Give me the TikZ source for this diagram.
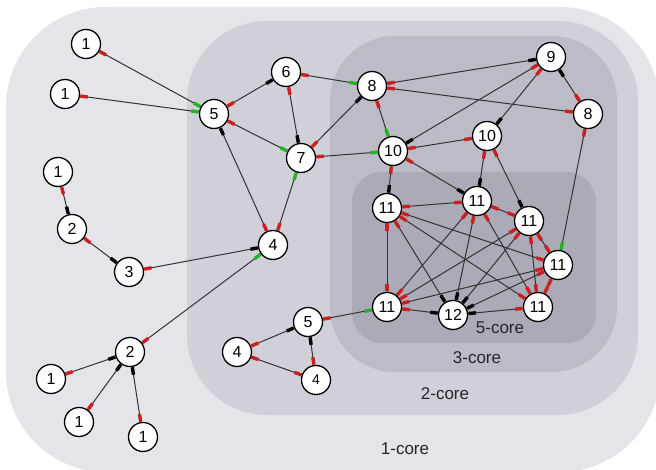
\documentclass[tikz,border=0pt]{standalone}
\usepackage{fontspec}
\setmainfont{Liberation Sans}
\usetikzlibrary{calc}
\definecolor{coreA}{HTML}{E4E4E9}
\definecolor{coreB}{HTML}{CFD0D8}
\definecolor{coreC}{HTML}{BBBCC7}
\definecolor{coreE}{HTML}{ABABB8}
\definecolor{R}{HTML}{CC1F1F}
\definecolor{G}{HTML}{22B422}
\definecolor{K}{HTML}{000000}
\definecolor{edgegray}{HTML}{333333}
\tikzset{
  vtx/.style={circle, draw=black, fill=white, line width=1.3pt, minimum size=29pt, inner sep=0pt, font=\fontsize{16}{16}\selectfont},
  vtxs/.style={vtx, font=\fontsize{14}{14}\selectfont},
  corelabel/.style={font=\fontsize{17}{17}\selectfont, text=black!85, inner sep=0pt},
  edgeline/.style={draw=edgegray, line width=1pt},
  mk/.style={draw=#1, line width=3.4pt},
}
\newcommand\edg[4]{%
  \draw[edgeline] (#1) -- (#2);
  \draw[mk=#3] ($(#1.center)!15.5pt!(#2.center)$) -- ($(#1.center)!23pt!(#2.center)$);
  \draw[mk=#4] ($(#2.center)!15.5pt!(#1.center)$) -- ($(#2.center)!23pt!(#1.center)$);
}
\begin{document}
\begin{tikzpicture}[x=1pt,y=-1pt]
\useasboundingbox (0,0) rectangle (656,470);
\clip (0,0) rectangle (656,470);
% core regions
\fill[coreA, rounded corners=100pt] (6,7) rectangle (660,472);
\fill[coreB, rounded corners=80pt] (187,21) rectangle (638,415);
\fill[coreC, rounded corners=65pt] (330,36) rectangle (617,372);
\fill[coreE, rounded corners=30pt] (352,172) rectangle (596,343);
\node[corelabel] (l1) at (405,449) {1-core};
\node[corelabel] (l2) at (445,394) {2-core};
\node[corelabel] (l3) at (477,358) {3-core};
\node[corelabel] (l5) at (500,328) {5-core};
% vertices
\node[vtx] (n1a) at (86,44) {1};
\node[vtx] (n1b) at (65,94) {1};
\node[vtx] (n1c) at (58,172) {1};
\node[vtx] (n2a) at (72,229) {2};
\node[vtx] (n3) at (129,272) {3};
\node[vtx] (n5a) at (214,114) {5};
\node[vtx] (n6) at (286,72) {6};
\node[vtx] (n7) at (301,158) {7};
\node[vtx] (n8a) at (372,86) {8};
\node[vtx] (n4a) at (273,245) {4};
\node[vtx] (n9) at (551,57) {9};
\node[vtx] (n8b) at (588,114) {8};
\node[vtx] (n10a) at (393,151) {10};
\node[vtx] (n10b) at (487,136) {10};
\node[vtx] (n11a) at (387,208) {11};
\node[vtx] (n11b) at (477,201) {11};
\node[vtx] (n11c) at (529,221) {11};
\node[vtx] (n11d) at (558,265) {11};
\node[vtx] (n11e) at (387,307) {11};
\node[vtx] (n12) at (453,315) {12};
\node[vtx] (n11f) at (538,307) {11};
\node[vtx] (n5b) at (308,322) {5};
\node[vtx] (n4b) at (237,352) {4};
\node[vtxs] (n4c) at (316,380) {4};
\node[vtx] (n2b) at (130,352) {2};
\node[vtx] (n1d) at (51,379) {1};
\node[vtx] (n1e) at (79,422) {1};
\node[vtx] (n1f) at (143,437) {1};
% edges
\edg{n1a}{n5a}{R}{G}
\edg{n1b}{n5a}{R}{G}
\edg{n5a}{n6}{R}{K}
\edg{n5a}{n7}{R}{G}
\edg{n5a}{n4a}{K}{R}
\edg{n6}{n7}{R}{K}
\edg{n6}{n8a}{R}{G}
\edg{n7}{n8a}{R}{K}
\edg{n7}{n4a}{G}{R}
\edg{n7}{n10a}{R}{G}
\edg{n8a}{n10a}{R}{G}
\edg{n8a}{n9}{R}{K}
\edg{n8a}{n8b}{R}{R}
\edg{n9}{n10a}{R}{K}
\edg{n9}{n10b}{R}{K}
\edg{n9}{n8b}{K}{R}
\edg{n10a}{n10b}{R}{R}
\edg{n10a}{n11b}{R}{K}
\edg{n10a}{n11a}{R}{K}
\edg{n10b}{n11b}{R}{K}
\edg{n10b}{n11c}{R}{K}
\edg{n8b}{n11d}{R}{G}
\edg{n1c}{n2a}{R}{K}
\edg{n2a}{n3}{R}{K}
\edg{n3}{n4a}{R}{K}
\edg{n4a}{n2b}{G}{R}
\edg{n2b}{n1d}{K}{R}
\edg{n2b}{n1e}{K}{R}
\edg{n2b}{n1f}{K}{R}
\edg{n5b}{n4b}{K}{R}
\edg{n5b}{n4c}{K}{R}
\edg{n4b}{n4c}{R}{R}
\edg{n5b}{n11e}{R}{G}
% 5-core
\edg{n11a}{n11b}{R}{R}
\edg{n11a}{n11e}{R}{R}
\edg{n11a}{n12}{R}{K}
\edg{n11a}{n11f}{R}{R}
\edg{n11a}{n11d}{R}{R}
\edg{n11b}{n11c}{R}{R}
\edg{n11b}{n11e}{R}{R}
\edg{n11b}{n12}{R}{K}
\edg{n11b}{n11f}{R}{R}
\edg{n11c}{n11e}{R}{R}
\edg{n11c}{n12}{R}{K}
\edg{n11c}{n11f}{R}{R}
\edg{n11c}{n11d}{R}{R}
\edg{n11d}{n11e}{R}{R}
\edg{n11d}{n12}{R}{K}
\edg{n11d}{n11f}{R}{R}
\edg{n11e}{n12}{R}{K}
\edg{n11f}{n12}{R}{K}
\end{tikzpicture}
\end{document}
